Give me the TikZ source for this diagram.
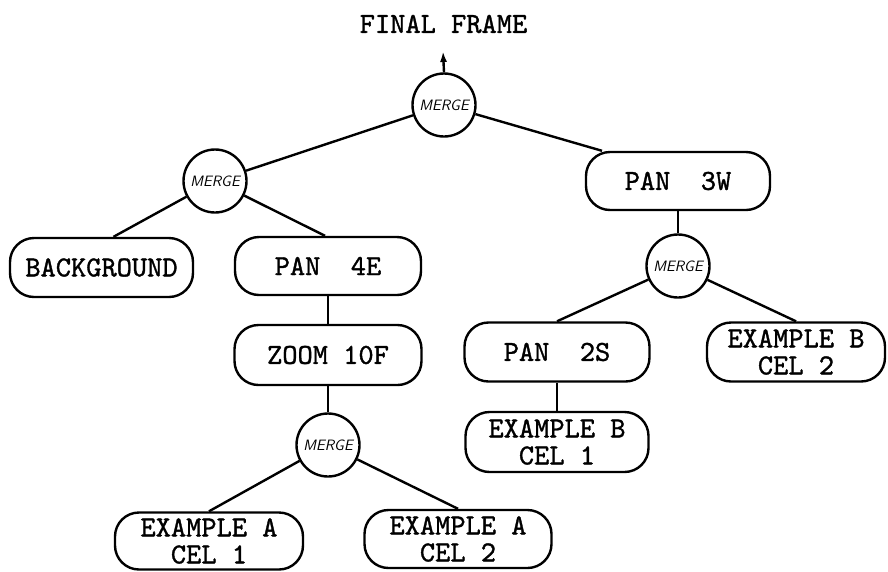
\documentclass[tikz,border=0pt]{standalone}
\usepackage{fontspec}
\newfontfamily\typew{lmmono10-regular}[Extension=.otf,FakeBold=1.2]
\usetikzlibrary{arrows.meta}
\begin{document}
\begin{tikzpicture}[x=1pt,y=-1pt,
  lbl/.style={font=\fontsize{29}{27}\selectfont\typew},
  opbox/.style={lbl,draw,line width=2.4pt,rounded corners=24pt,minimum width=185pt,minimum height=59pt,inner sep=0pt,align=center},
  mergenode/.style={draw,circle,line width=2.4pt,minimum size=63pt,inner sep=0pt,font=\fontsize{15}{15}\selectfont\sffamily\itshape},
  link/.style={line width=2.4pt}]
\useasboundingbox (0,0) rectangle (888,571);
% title and arrow
\node[lbl] (ff) at (443.5,24) {FINAL FRAME};
\coordinate (tip) at (443,51);
% merge nodes
\node[mergenode] (m1) at (444,105) {MERGE};
\node[mergenode] (m2) at (215,181) {MERGE};
\node[mergenode] (m3) at (678,266) {MERGE};
\node[mergenode] (m4) at (328,445) {MERGE};
% boxes
\node[opbox,minimum width=183pt] (bg) at (101.5,267.5) {BACKGROUND};
\node[opbox,minimum width=186pt,minimum height=58pt] (p4e) at (328,266) {PAN~~4E};
\node[opbox,minimum width=184pt,minimum height=58pt] (p3w) at (678,181) {PAN~~3W};
\node[opbox,minimum width=187pt,minimum height=60pt] (zoom) at (328,355) {ZOOM 10F};
\node[opbox] (p2s) at (557,352) {PAN~~2S};
\node[opbox,minimum width=183pt,minimum height=60pt] (exb1) at (557,442) {EXAMPLE B\\CEL 1};
\node[opbox,minimum width=178pt] (exb2) at (796,352) {EXAMPLE B\\CEL 2};
\node[opbox,minimum width=188pt,minimum height=57pt] (exa1) at (209,541) {EXAMPLE A\\CEL 1};
\node[opbox,minimum width=187pt,minimum height=58pt] (exa2) at (458,539) {EXAMPLE A\\CEL 2};
% connectors
\draw[link,-{Latex[length=11pt,width=7pt]}] (m1.north) -- (tip);
\draw[link] (m1) -- (m2);
\draw[link] (m1) -- ([xshift=-76pt]p3w.north);
\draw[link] (m2) -- ([xshift=12pt]bg.north);
\draw[link] (m2) -- ([xshift=-3pt]p4e.north);
\draw[link] (p4e) -- (zoom);
\draw[link] (zoom) -- (m4);
\draw[link] (m4) -- (exa1.north);
\draw[link] (m4) -- (exa2.north);
\draw[link] (p3w) -- (m3);
\draw[link] (m3) -- (p2s.north);
\draw[link] (m3) -- (exb2.north);
\draw[link] (p2s) -- (exb1);
\end{tikzpicture}
\end{document}
